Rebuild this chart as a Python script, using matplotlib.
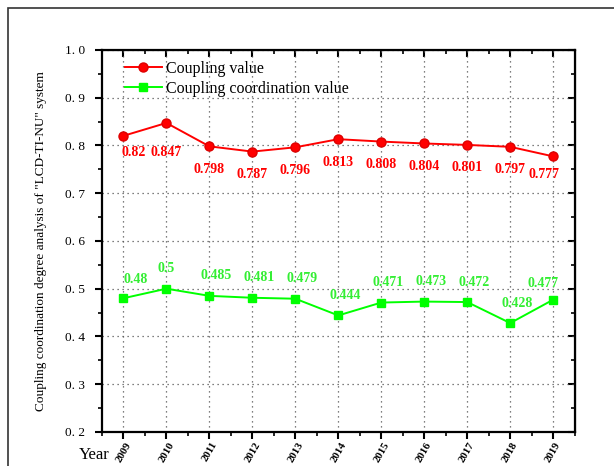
import numpy as np
import matplotlib
matplotlib.use('Agg')
import matplotlib.pyplot as plt
from matplotlib.patches import Rectangle

plt.rcParams['font.family'] = ['Liberation Serif', 'DejaVu Serif']

years = [2009, 2010, 2011, 2012, 2013, 2014, 2015, 2016, 2017, 2018, 2019]
coupling = [0.82, 0.847, 0.798, 0.787, 0.796, 0.813, 0.808, 0.804, 0.801, 0.797, 0.777]
coordination = [0.48, 0.5, 0.485, 0.481, 0.479, 0.444, 0.471, 0.473, 0.472, 0.428, 0.477]

red = '#ff0000'
green = '#00ff00'

fig = plt.figure(figsize=(6.14, 4.66), dpi=100)
ax = fig.add_axes([0.166, 0.073, 0.770, 0.820])

# outer frame line (top and left only visible)
fig.patches.append(Rectangle((8 / 614, -0.2), 1.2, 1.2 - 8 / 466,
                             transform=fig.transFigure, fill=False,
                             edgecolor='#333333', linewidth=1.2))

ax.plot(years, coupling, color=red, lw=1.4, marker='o', ms=6.5,
        mfc=red, mec='#dd0000', label='Coupling value', zorder=3)
ax.plot(years, coordination, color=green, lw=1.4, marker='s', ms=6,
        mfc=green, mec=green, label='Coupling coordination value', zorder=3)

# value labels (offsets in pixels, a few nudged like the original)
red_off = {0: (10, -17), 1: (0, -30), 10: (-9, -18)}
green_off = {0: (12, 19), 1: (0, 20), 10: (-10, 16)}
for i, (x, v) in enumerate(zip(years, coupling)):
    dx, dy = red_off.get(i, (0, -23))
    ax.annotate(str(v), (x, v), xytext=(dx * 0.72, dy * 0.72),
                textcoords='offset points', ha='center', va='center',
                color=red, fontsize=10, fontweight='bold')
for i, (x, v) in enumerate(zip(years, coordination)):
    dx, dy = green_off.get(i, (7, 20))
    ax.annotate(str(v), (x, v), xytext=(dx * 0.72, dy * 0.72),
                textcoords='offset points', ha='center', va='center',
                color='#33ee33', fontsize=10, fontweight='bold')

ax.set_xlim(2008.5, 2019.5)
ax.set_ylim(0.2, 1.0)
ax.set_xticks(years)
ax.set_xticks(np.arange(2008.5, 2019.6, 0.5), minor=True)
ax.set_yticks(np.arange(0.2, 1.01, 0.1))
ax.set_yticks(np.arange(0.25, 1.0, 0.1), minor=True)
ax.set_yticklabels([('%.1f' % t).replace('.', '. ') for t in np.arange(0.2, 1.01, 0.1)])
ax.set_xticklabels([str(y) for y in years], rotation=60, ha='center',
                   fontweight='bold', fontsize=7.8)
for t in ax.get_yticklabels():
    t.set_fontsize(9.5)

ax.grid(True, which='major', color='#555555', linestyle=(0, (1, 3)), lw=0.9)
for s in ax.spines.values():
    s.set_linewidth(1.6)
ax.tick_params(which='major', direction='out', length=5, width=1.5, pad=1)
ax.tick_params(axis='y', which='major', pad=7)
ax.tick_params(which='minor', direction='out', length=3, width=1.2)

top = ax.secondary_xaxis('top')
top.set_xticks(years)
top.set_xticks(np.arange(2008.5, 2019.6, 0.5), minor=True)
top.set_xticklabels([])
top.tick_params(which='major', direction='in', length=5, width=1.5)
top.tick_params(which='minor', direction='in', length=3, width=1.2)
right = ax.secondary_yaxis('right')
right.set_yticks(np.arange(0.2, 1.01, 0.1))
right.set_yticks(np.arange(0.25, 1.0, 0.1), minor=True)
right.set_yticklabels([])
right.tick_params(which='major', direction='in', length=5, width=1.5)
right.tick_params(which='minor', direction='in', length=3, width=1.2)

ax.set_ylabel('Coupling coordination degree analysis of "LCD-TI-NU" system',
              fontsize=9.5, labelpad=13)
fig.text(94 / 614, 1 - 455 / 466, 'Year', fontsize=12, ha='center', va='center')

ax.legend(loc='upper left', frameon=False, fontsize=11.5, handlelength=2.3,
          handletextpad=0.3, labelspacing=0.25, borderaxespad=0.3,
          bbox_to_anchor=(0.025, 1.0))

fig.savefig('out.png', dpi=100)
